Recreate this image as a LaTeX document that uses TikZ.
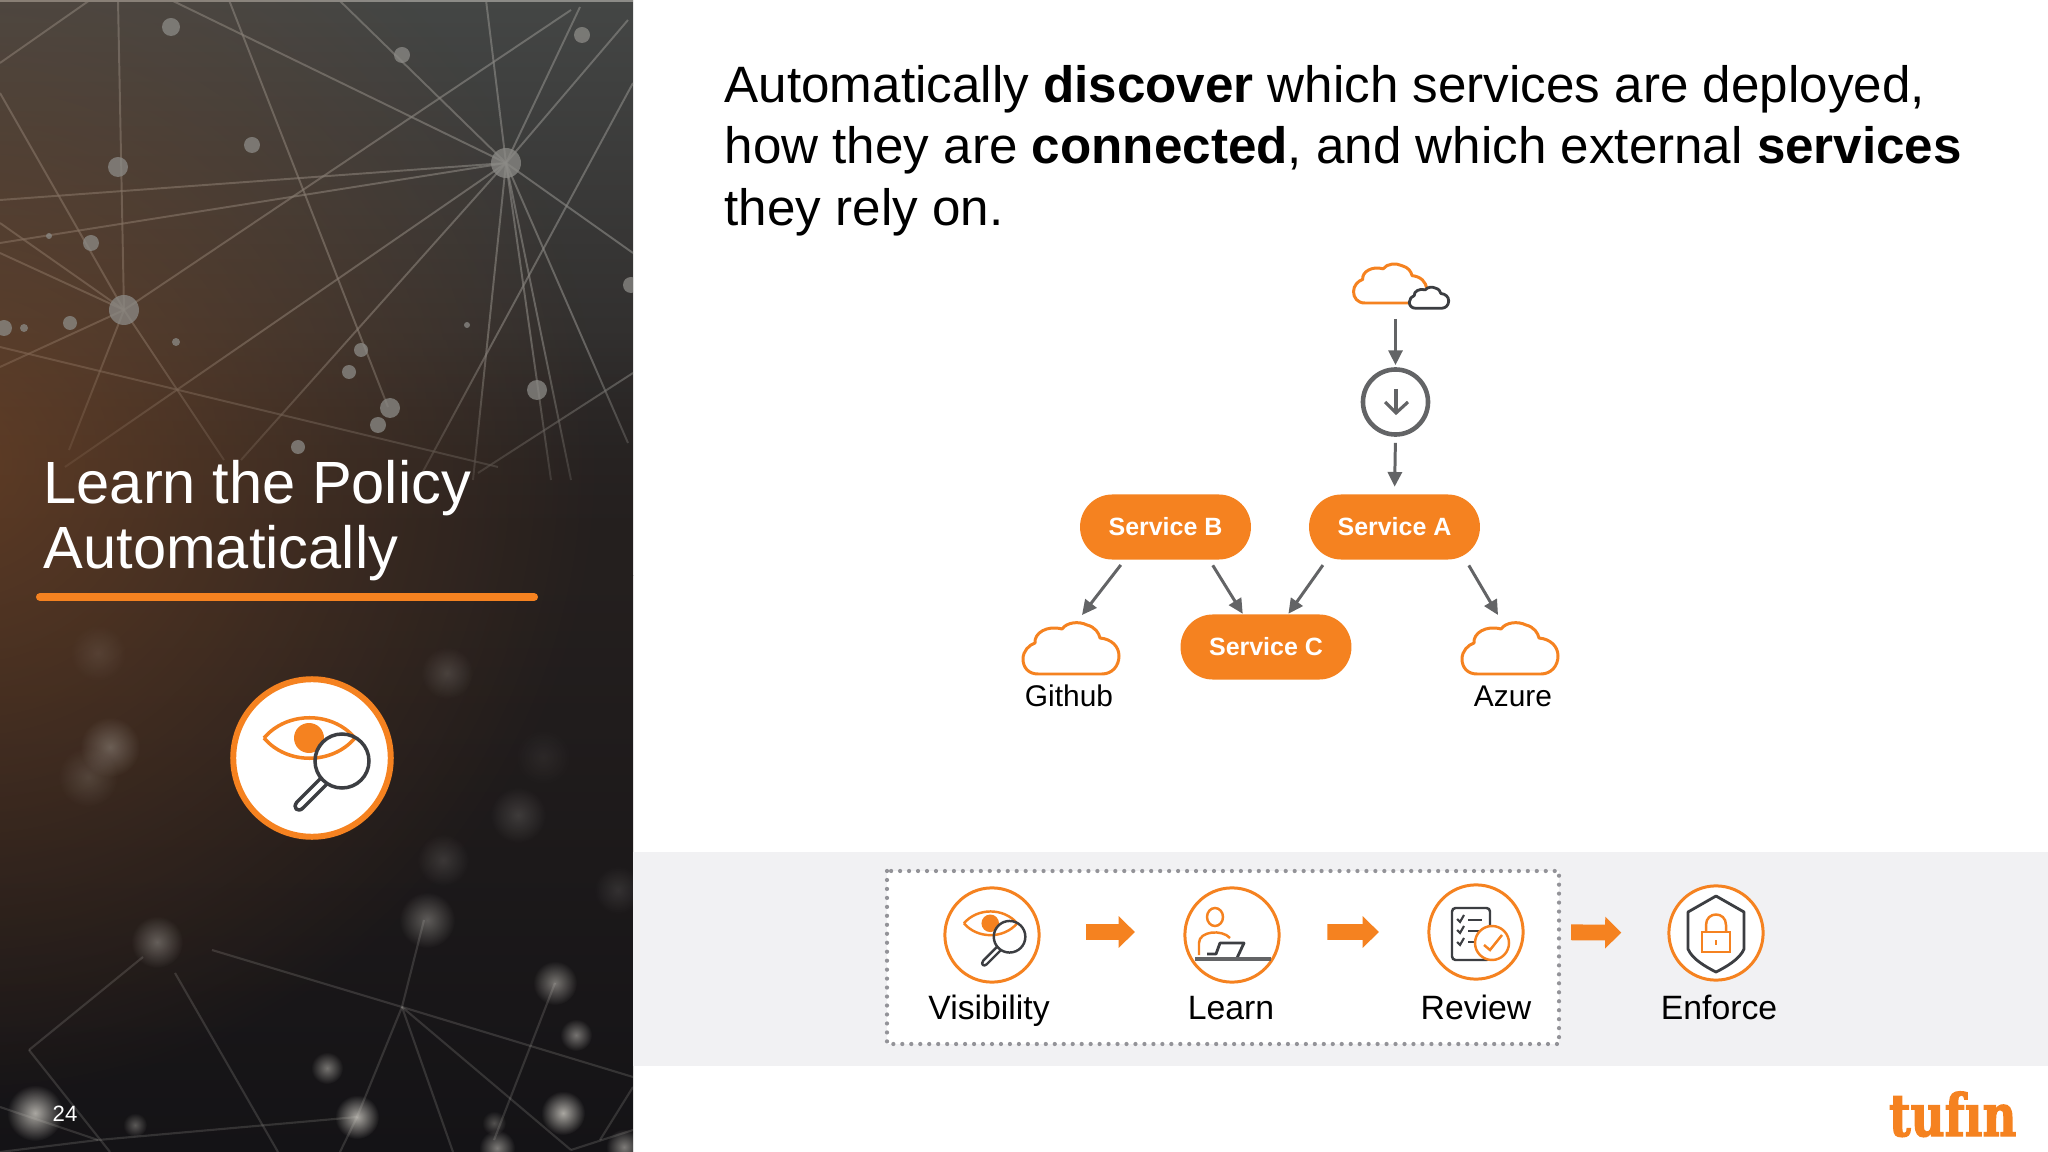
\documentclass[tikz,border=0pt]{standalone}
\usepackage{fontspec}
\setmainfont{Liberation Sans}
\newfontfamily\logofont[BoldFeatures={FakeBold=2.5}]{DejaVu Serif}
\usetikzlibrary{arrows.meta, fadings}

\definecolor{tforange}{HTML}{F58220}
\definecolor{tfgrey}{HTML}{636466}
\definecolor{tfdark}{HTML}{3C3E42}
\definecolor{bandgrey}{HTML}{F1F1F3}
\definecolor{dotgrey}{HTML}{939398}
\definecolor{netgrey}{HTML}{8C8B87}
\definecolor{softgrey}{HTML}{C4C1BA}
\definecolor{glowbrown}{HTML}{7C4A28}
\definecolor{midback}{HTML}{241F1E}

\tikzfading[name=softfade, inner color=transparent!0, outer color=transparent!100]

\tikzset{
	netline/.style={color=netgrey, opacity=0.6, line width=0.55pt},
	lowline/.style={color=softgrey, opacity=0.18, line width=0.6pt},
	netdot/.style={color=netgrey, opacity=0.75},
	softdot/.style={color=softgrey, path fading=softfade},
	servicebox/.style={fill=tforange, rounded corners=9.2pt, minimum width=48.6pt, minimum height=18.5pt, inner sep=0pt, text=white, font=\fontsize{7.1}{8}\selectfont\bfseries},
	stepcircle/.style={circle, draw=tforange, fill=white, line width=0.85pt, minimum size=26.8pt, inner sep=0pt},
	steplabel/.style={anchor=base, inner sep=0pt, font=\fontsize{9.6}{11}\selectfont},
	cloudlabel/.style={anchor=base, inner sep=0pt, font=\fontsize{8.5}{10}\selectfont},
	flowline/.style={color=tfgrey, line width=0.85pt, -{Triangle[length=4.2pt,width=4pt]}},
	stepflow/.style={color=tforange, line width=4.5pt, -{Triangle[length=4.6pt,width=8.8pt]}},
	cloudicon/.pic={
		\draw[fill=white, line join=round] (-33,25) .. controls (-43,25) and (-48,18) .. (-48,10)
			.. controls (-48,2) and (-42,-4) .. (-36,-6)
			.. controls (-37,-16) and (-24,-24) .. (-9,-20)
			.. controls (-4,-27) and (8,-28) .. (16,-24)
			.. controls (24,-22) and (28,-16) .. (29,-11)
			.. controls (40,-10) and (48,-3) .. (48,7)
			.. controls (48,17) and (41,25) .. (31,25) -- cycle;
	},
	eyeicon/.pic={
		\draw[color=tforange] (-48,-20) .. controls (-25,-47) and (20,-47) .. (43,-20) .. controls (20,7) and (-25,7) .. (-48,-20);
		\fill[color=tforange] (-3,-20) circle(15);
		\draw[color=tfdark] (30,3) circle(27);
		\draw[color=tfdark, line join=round] (9,20) -- (-15,44) .. controls (-20,50) and (-14,55) .. (-9,50) -- (15,26);
	}
}

\begin{document}
\begin{tikzpicture}[x=0.01cm, y=-0.01cm]
\useasboundingbox (0,0) rectangle (2048,1152);

% left panel
\begin{scope}
	\clip (0,0) rectangle (633,1152);
	\shade[top color={rgb,255:red,68;green,70;blue,69}, bottom color=midback] (0,0) rectangle (633,576);
	\shade[top color=midback, bottom color={rgb,255:red,20;green,19;blue,22}] (0,576) rectangle (633,1152);
	\draw[color=netgrey, line width=0.4pt] (0,1) -- (633,1);
	% upper net
	\draw[netline] (506,163) -- (339,0);
	\draw[netline] (506,163) -- (486,0);
	\draw[netline] (506,163) -- (628,20);
	\draw[netline] (506,163) -- (580,7);
	\draw[netline] (506,163) -- (0,200);
	\draw[netline] (506,163) -- (0,243);
	\draw[netline] (506,163) -- (171,0);
	\draw[netline] (506,163) -- (65,467);
	\draw[netline] (506,163) -- (241,460);
	\draw[netline] (506,163) -- (473,480);
	\draw[netline] (506,163) -- (571,480);
	\draw[netline] (506,163) -- (551,480);
	\draw[netline] (506,163) -- (628,443);
	\draw[netline] (506,163) -- (633,253);
	\draw[netline] (124,310) -- (118,0);
	\draw[netline] (124,310) -- (0,93);
	\draw[netline] (124,310) -- (0,223);
	\draw[netline] (124,310) -- (0,253);
	\draw[netline] (124,310) -- (0,367);
	\draw[netline] (124,310) -- (571,10);
	\draw[netline] (124,310) -- (69,450);
	\draw[netline] (124,310) -- (224,460);
	\draw[netline] (229,0) -- (388,407);
	\draw[netline] (0,347) -- (498,467);
	\draw[netline] (633,83) -- (420,477);
	\draw[netline] (633,373) -- (478,473);
	\draw[netline] (0,63) -- (90,0);
	% fade the net out towards the title
	\fill[color=midback, path fading=north] (0,340) rectangle (633,576);
	\fill[color=glowbrown, opacity=0.65, path fading=softfade] (-40,460) circle(640);
	\fill[netdot] (506,163) circle(15);
	\fill[netdot] (124,310) circle(15);
	\fill[netdot] (171,27) circle(9);
	\fill[netdot] (402,55) circle(8);
	\fill[netdot] (582,35) circle(8);
	\fill[netdot] (252,145) circle(8);
	\fill[netdot] (118,167) circle(10);
	\fill[netdot] (91,243) circle(8);
	\fill[netdot] (49,236) circle(3);
	\fill[netdot] (70,323) circle(7);
	\fill[netdot] (24,328) circle(4);
	\fill[netdot] (4,328) circle(8);
	\fill[netdot] (176,342) circle(4);
	\fill[netdot] (361,350) circle(7);
	\fill[netdot] (349,372) circle(7);
	\fill[netdot] (390,408) circle(10);
	\fill[netdot] (378,425) circle(8);
	\fill[netdot] (298,447) circle(7);
	\fill[netdot] (537,390) circle(10);
	\fill[netdot] (467,325) circle(3);
	\fill[netdot] (631,285) circle(8);
	% lower net
	\draw[lowline] (402,1007) -- (357,1117);
	\draw[lowline] (402,1007) -- (453,1152);
	\draw[lowline] (402,1007) -- (571,1150);
	\draw[lowline] (402,1007) -- (633,1077);
	\draw[lowline] (402,1007) -- (212,950);
	\draw[lowline] (402,1007) -- (424,920);
	\draw[lowline] (555,983) -- (494,1140);
	\draw[lowline] (175,973) -- (278,1152);
	\draw[lowline] (29,1050) -- (110,1152);
	\draw[lowline] (29,1050) -- (143,957);
	\draw[lowline] (98,1140) -- (0,1107);
	\draw[lowline] (633,1087) -- (600,1140);
	\draw[lowline] (357,1117) -- (98,1140);
	\draw[lowline] (98,1140) -- (0,1152);
	\draw[lowline] (571,1150) -- (633,1130);
	\draw[lowline] (357,1117) -- (340,1152);
	\fill[softdot, opacity=0.35] (110,747) circle(30);
	\fill[softdot, opacity=0.18] (88,777) circle(30);
	\fill[softdot, opacity=0.2] (447,673) circle(26);
	\fill[softdot, opacity=0.2] (518,815) circle(28);
	\fill[softdot, opacity=0.18] (443,860) circle(26);
	\fill[softdot, opacity=0.4] (427,920) circle(28);
	\fill[softdot, opacity=0.4] (157,942) circle(26);
	\fill[softdot, opacity=0.55] (555,983) circle(22);
	\fill[softdot, opacity=0.55] (576,1035) circle(16);
	\fill[softdot, opacity=0.55] (327,1068) circle(16);
	\fill[softdot, opacity=0.85] (357,1117) circle(22);
	\fill[softdot, opacity=0.85] (35,1113) circle(28);
	\fill[softdot, opacity=0.4] (135,1125) circle(12);
	\fill[softdot, opacity=0.85] (563,1113) circle(22);
	\fill[softdot, opacity=0.35] (494,1123) circle(12);
	\fill[softdot, opacity=0.15] (618,890) circle(24);
	\fill[softdot, opacity=0.12] (98,653) circle(28);
	\fill[softdot, opacity=0.08] (543,757) circle(28);
	\fill[softdot, opacity=0.6] (497,1148) circle(18);
	\fill[softdot, opacity=0.6] (624,1147) circle(18);
\end{scope}

% title on the panel
\node[anchor=base west, inner sep=0pt, text=white, align=left, font=\fontsize{16.95}{18.2}\selectfont] (title) at (43,568) {Learn the Policy\\Automatically};
\draw[color=tforange, line width=2.3pt, line cap=round] (40,597) -- (534,597);
\node[circle, draw=tforange, fill=white, line width=1.7pt, minimum size=44.8pt, inner sep=0pt] (bigeye) at (312,758) {};
\pic[line width=1pt] at (312,758) {eyeicon};
\node[anchor=base west, inner sep=0pt, text=white, font=\fontsize{6.3}{7}\selectfont] (pagenum) at (52,1121) {24};

% heading
\node[anchor=north west, inner sep=0pt, align=left, font=\fontsize{14.55}{17.5}\selectfont] (heading) at (724,64.5) {Automatically \textbf{discover} which services are deployed,\\how they are \textbf{connected}, and which external \textbf{services}\\they rely on.};

% services
\node[servicebox] (svcb) at (1165.5,527) {Service B};
\node[servicebox] (svca) at (1394.5,527) {Service A};
\node[servicebox] (svcc) at (1266,647) {Service C};
\pic[color=tforange, line width=0.85pt] at (1071,649) {cloudicon};
\pic[color=tforange, line width=0.85pt] at (1510,649) {cloudicon};
\pic[color=tforange, line width=0.85pt, scale=0.76] at (1390,284) {cloudicon};
\pic[color=tfdark, line width=0.8pt, scale=0.41] at (1429,298) {cloudicon};
\node[cloudlabel] (github) at (1069,706) {Github};
\node[cloudlabel] (azure) at (1513,706) {Azure};
\coordinate (topcloud) at (1395.5,319);
\coordinate (githubtop) at (1082,615);
\coordinate (azuretop) at (1498,615);
\node[circle, draw=tfgrey, line width=1.3pt, minimum size=18.5pt, inner sep=0pt] (discover) at (1395.5,402) {};
\draw[color=tfgrey, line width=0.9pt] (1396,389) -- (1396,413);
\draw[color=tfgrey, line width=0.9pt] (1385,402) -- (1396,413) -- (1408,402);
\draw[flowline, shorten >=0.6pt] (topcloud) -- (discover.north);
\draw[flowline, shorten <=1.7pt, shorten >=2pt] (discover.south) -- (svca.north);
\draw[flowline, shorten <=1.7pt] (svcb.-141) -- (githubtop);
\draw[flowline, shorten <=1.7pt] (svcb.-37) -- (svcc.125);
\draw[flowline, shorten <=1.7pt] (svca.-154) -- (svcc.56);
\draw[flowline, shorten <=1.7pt] (svca.-25.5) -- (azuretop);

% step band
\fill[color=bandgrey] (633,852) rectangle (2048,1066);
\fill[color=white] (887,871) rectangle (1559,1044);
\draw[color=dotgrey, line width=1.2pt, line cap=round, dash pattern=on 0pt off 2.55pt] (887,871) rectangle (1559,1044);
\node[stepcircle] (visibility) at (992,935) {};
\node[stepcircle] (learn) at (1232,935) {};
\node[stepcircle] (review) at (1476,932) {};
\node[stepcircle] (enforce) at (1716,933) {};
\node[steplabel] (vislabel) at (989,1019) {Visibility};
\node[steplabel] (learnlabel) at (1231,1019) {Learn};
\node[steplabel] (reviewlabel) at (1476,1019) {Review};
\node[steplabel] (enforcelabel) at (1719,1019) {Enforce};
\draw[stepflow, shorten <=12.9pt, shorten >=13.8pt] ([yshift=0.85pt]visibility.east) -- ([yshift=0.85pt]learn.west);
\draw[stepflow, shorten <=13.3pt, shorten >=13.8pt] ([yshift=0.85pt]learn.east) -- ([yshift=0pt]review.west);
\draw[stepflow, shorten <=13.2pt, shorten >=13.1pt] (review.east) -- (enforce.west);

% step icons
\pic[line width=0.7pt, scale=0.585] at (992,935) {eyeicon};
\begin{scope}[shift={(1232,935)}]
	\draw[color=tforange, line width=0.7pt] (-17,-18) ellipse(8 and 9);
	\draw[color=tforange, line width=0.7pt] (-33,20) -- (-33,8) .. controls (-33,-4) and (-10,-6) .. (-2,3);
	\draw[color=tfdark, line width=0.8pt, line join=round] (-25,19) -- (-16,19) -- (-12,8) -- (12,8) -- (5,23);
	\draw[color=tfgrey, line width=1pt] (-37,24) -- (39,24);
\end{scope}
\begin{scope}[shift={(1476,932)}]
	\draw[color=tfdark, line width=0.7pt, rounded corners=1pt] (-24,-24) rectangle (14,28);
	\draw[color=tfdark, line width=0.6pt] (-19,-13) -- (-16,-10) -- (-12,-17);
	\draw[color=tfdark, line width=0.6pt] (-19,-2) -- (-16,1) -- (-12,-6);
	\draw[color=tfdark, line width=0.6pt] (-19,10) -- (-16,13) -- (-12,6);
	\draw[color=tfdark, line width=0.6pt] (-8,-12) -- (6,-12);
	\draw[color=tfdark, line width=0.6pt] (-8,-1) -- (6,-1);
	\draw[color=tfdark, line width=0.6pt] (-8,10) -- (2,10);
	\draw[color=tforange, fill=white, line width=0.7pt] (16,11) circle(17);
	\draw[color=tforange, line width=0.7pt] (8,13) -- (14,18) -- (26,3);
\end{scope}
\begin{scope}[shift={(1716,933)}]
	\draw[color=tfdark, line width=0.8pt, line join=round] (0,-37) -- (28,-21) -- (28,16) .. controls (24,26) and (10,34) .. (0,39) .. controls (-10,34) and (-24,26) .. (-28,16) -- (-28,-21) -- cycle;
	\draw[color=tforange, line width=0.7pt] (-14,-1) rectangle (14,19);
	\draw[color=tforange, line width=0.7pt] (-10,-1) -- (-10,-8) .. controls (-10,-22) and (10,-22) .. (10,-8) -- (10,-1);
	\draw[color=tforange, line width=0.7pt] (0,7) -- (0,12);
\end{scope}

% logo
\node[anchor=base east, inner sep=0pt, xscale=0.8, text=tforange, font=\fontsize{16.6}{18}\logofont\bfseries] (logo) at (2017,1136) {tuf\i n};
\end{tikzpicture}
\end{document}
